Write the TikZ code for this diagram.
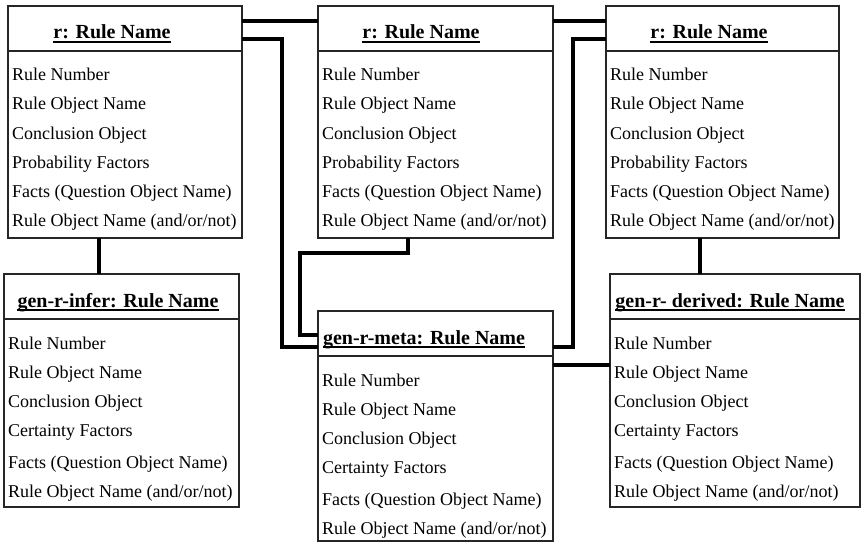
\documentclass[tikz,border=0pt]{standalone}
\usepackage{fontspec}
\setmainfont{Liberation Serif}

\begin{document}
\begin{tikzpicture}[x=1pt,y=-1pt,
  rulebox/.style={draw=black!85,line width=1.8pt,fill=white,anchor=north west,inner sep=0pt,outer sep=0pt},
  rtitle/.style={anchor=base,inner sep=0pt,font=\fontsize{20}{22}\selectfont\bfseries},
  rowtext/.style={anchor=base west,inner sep=0pt,font=\fontsize{18}{20}\selectfont},
  link/.style={line width=3.2pt}]
  \useasboundingbox (0,0) rectangle (862,543);
  % the six rule objects: name/x/y/width/height/title shift/extra gap/factor/title
  \foreach \n/\x/\y/\w/\h/\tx/\g/\f/\t in {
    rA/8/6/234/232/104/0/Probability/{r: Rule Name},
    rB/318/6/235/232/103/0/Probability/{r: Rule Name},
    rC/606/6/233/232/103/0/Probability/{r: Rule Name},
    gInfer/4/274/235/233/114/3/Certainty/{gen-r-infer: Rule Name},
    gMeta/318/311/235/230/106/3/Certainty/{gen-r-meta: Rule Name},
    gDerived/610/274/250/233/120/3/Certainty/{gen-r- derived: Rule Name}}
  {
    \node[rulebox,minimum width=\w pt,minimum height=\h pt] (\n) at (\x,\y) {};
    \draw[line width=1.4pt,black!85] ([yshift=-45pt]\n.north west) -- ([yshift=-45pt]\n.north east);
    \node[rtitle] (\n-t) at ([xshift=\tx pt,yshift=-33pt]\n.north west) {\t};
    \draw[line width=1.5pt] ([yshift=-3pt]\n-t.base west) -- ([yshift=-3pt]\n-t.base east);
    \foreach \i/\e/\s in {1/0/Rule Number,2/0/Rule Object Name,3/0/Conclusion Object,
                          4/0/{\f{} Factors},5/1/{Facts (Question Object Name)},
                          6/1/{Rule Object Name (and/or/not)}}
      \node[rowtext] (\n-\i) at ([xshift=4pt,yshift={-(46+29*\i+\e*\g)*1pt}]\n.north west) {\s};
  }
  % links along the top row
  \draw[link] ([yshift=-15pt]rA.north east) -- ([yshift=-15pt]rB.north west);
  \draw[link] ([yshift=-15pt]rB.north east) -- ([yshift=-15pt]rC.north west);
  % drops to the gen boxes
  \coordinate (aDrop) at ([xshift=91pt]rA.south west);
  \coordinate (cDrop) at ([xshift=94pt]rC.south west);
  \draw[link] (aDrop) -- (aDrop |- gInfer.north);
  \draw[link] (cDrop) -- (cDrop |- gDerived.north);
  % into and out of gen-r-meta
  \draw[link] ([yshift=-33pt]rA.north east) -- ++(40,0) |- ([yshift=-36pt]gMeta.north west);
  \draw[link] ([xshift=90pt]rB.south west) |- ++(-108,15) |- ([yshift=-24pt]gMeta.north west);
  \draw[link] ([yshift=-36pt]gMeta.north east) -- ++(20,0) |- ([yshift=-33pt]rC.north west);
  \draw[link] ([yshift=-54pt]gMeta.north east) -- ([yshift=-91pt]gDerived.north west);
\end{tikzpicture}
\end{document}
